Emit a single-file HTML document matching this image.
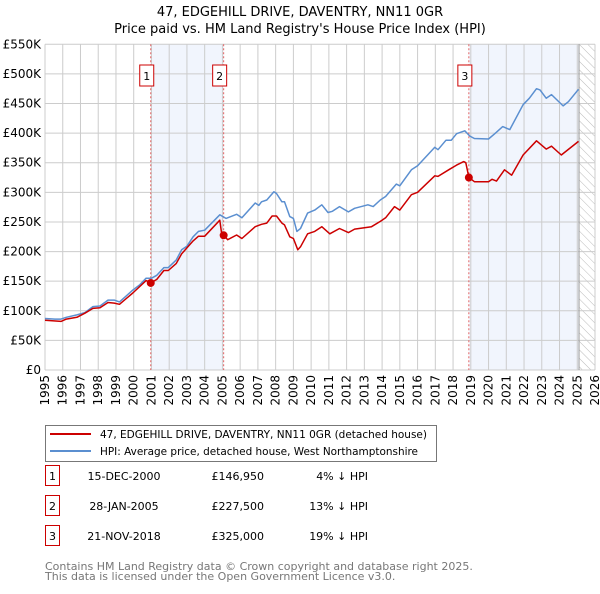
<!DOCTYPE html>
<html><head><meta charset="utf-8">
<style>
body{margin:0;background:#fff;font-family:"DejaVu Sans","Liberation Sans",sans-serif;}
svg text{font-family:"DejaVu Sans","Liberation Sans",sans-serif;}
</style></head>
<body>
<svg id="c" width="600" height="590" xmlns="http://www.w3.org/2000/svg">
<defs>
<pattern id="hatch" width="6" height="6" patternUnits="userSpaceOnUse" patternTransform="rotate(-45)">
<line x1="0" y1="0" x2="0" y2="6" stroke="#bbb" stroke-width="1"/>
</pattern>
</defs>
<text x="300" y="16" text-anchor="middle" font-size="13">47, EDGEHILL DRIVE, DAVENTRY, NN11 0GR</text>
<text x="300" y="33" text-anchor="middle" font-size="13">Price paid vs. HM Land Registry's House Price Index (HPI)</text>
<g id="plot"></g>
<rect x="45.5" y="425.5" width="391" height="36" fill="#fff" stroke="#777"/>
<line x1="50" y1="434" x2="91" y2="434" stroke="#cc0000" stroke-width="2"/>
<text x="100" y="438" font-size="10.5" textLength="327" lengthAdjust="spacingAndGlyphs">47, EDGEHILL DRIVE, DAVENTRY, NN11 0GR (detached house)</text>
<line x1="50" y1="451" x2="91" y2="451" stroke="#5b8fd0" stroke-width="2"/>
<text x="100" y="455" font-size="10.5" textLength="318" lengthAdjust="spacingAndGlyphs">HPI: Average price, detached house, West Northamptonshire</text>
<g id="table" font-size="11"></g>
<text x="45" y="570" font-size="11" fill="#777">Contains HM Land Registry data © Crown copyright and database right 2025.</text>
<text x="45" y="580" font-size="11" fill="#777">This data is licensed under the Open Government Licence v3.0.</text>
</svg>
<script>
const yearTicks=[1995,1996,1997,1998,1999,2000,2001,2002,2003,2004,2005,2006,2007,2008,2009,2010,2011,2012,2013,2014,2015,2016,2017,2018,2019,2020,2021,2022,2023,2024,2025,2026];
const priceTicks=[0,50,100,150,200,250,300,350,400,450,500,550];
const priceTickLabels=["£0","£50K","£100K","£150K","£200K","£250K","£300K","£350K","£400K","£450K","£500K","£550K"];
const hpiYears=[1995,1995.56,1995.9,1996.2,1996.8,1997.25,1997.7,1998.1,1998.55,1998.9,1999.2,1999.95,2000.35,2000.7,2001,2001.3,2001.7,2001.95,2002.4,2002.7,2003,2003.35,2003.65,2004,2004.85,2005.2,2005.8,2006.1,2006.85,2007.05,2007.2,2007.5,2007.9,2008.05,2008.35,2008.5,2008.8,2009,2009.2,2009.4,2009.8,2010.2,2010.6,2010.95,2011.2,2011.6,2012.1,2012.45,2013.2,2013.5,2013.9,2014.2,2014.8,2015,2015.65,2016,2016.97,2017.15,2017.6,2017.9,2018.2,2018.66,2018.95,2019.2,2020,2020.35,2020.8,2021.2,2021.95,2022.3,2022.7,2022.9,2023.25,2023.55,2024.2,2024.5,2025.07];
const hpiValues=[87,86,86,89,93,97,107,108,118,118,115,135,144,155,155,160,173,173,186,203,209,225,234,236,262,256,263,257,282,278,284,287,301,298,284,284,259,256,234,239,265,270,279,266,268,276,267,273,279,276,287,293,314,311,338,345,376,372,388,388,399,404,395,391,390,399,411,406,448,459,475,473,459,465,446,453,474];
const propYears=[1995,1995.9,1996.2,1996.8,1997.25,1997.7,1998.1,1998.55,1998.9,1999.2,1999.95,2000.7,2000.96,2001.3,2001.7,2001.95,2002.4,2002.7,2003.35,2003.65,2004,2004.85,2004.95,2005.07,2005.3,2005.8,2006.1,2006.85,2007.2,2007.5,2007.8,2008.05,2008.35,2008.5,2008.8,2009,2009.25,2009.4,2009.8,2010.2,2010.6,2011.05,2011.6,2012.1,2012.45,2013.4,2013.9,2014.2,2014.7,2015,2015.65,2016,2016.97,2017.15,2017.8,2018.2,2018.6,2018.72,2018.89,2019.2,2020,2020.2,2020.45,2020.9,2021.3,2021.95,2022.7,2023.25,2023.55,2024.1,2025.07];
const propValues=[84,82,86,89,96,104,105,114,113,111,130,151,146.95,153,168,168,180,196,218,226,226,253,232,227.5,220,228,222,242,246,248,260,260,248,245,225,222,203,208,230,234,242,230,239,232,238,242,251,257,276,270,296,300,328,327,339,346,352,350,325,318,318,322,319,338,329,363,387,373,378,363,386];
const saleYears=[2000.96,2005.07,2018.89];
const saleValues=[146.95,227.5,325];
const saleLabels=["1","2","3"];
const saleDates=["15-DEC-2000","28-JAN-2005","21-NOV-2018"];
const salePrices=["£146,950","£227,500","£325,000"];
const saleDiffs=["4% ↓ HPI","13% ↓ HPI","19% ↓ HPI"];
const shadeEnd=2025.1;

const X0=45,X1=595,Y0=370,Y1=44.3;
const xs=y=>X0+(y-1995)/(2026-1995)*(X1-X0);
const ys=v=>Y0-v/550*(Y0-Y1);
const NS="http://www.w3.org/2000/svg";
const plot=document.getElementById('plot');
function mk(tag,attrs,parent){const e=document.createElementNS(NS,tag);for(const k in attrs)e.setAttribute(k,attrs[k]);(parent||plot).appendChild(e);return e;}

let r;
r=mk('rect',{x:xs(saleYears[0]),y:Y1,width:xs(saleYears[1])-xs(saleYears[0]),height:Y0-Y1,fill:'#eef3fc',opacity:0.8});


r=mk('rect',{x:xs(saleYears[2]),y:Y1,width:xs(shadeEnd)-xs(saleYears[2]),height:Y0-Y1,fill:'#eef3fc',opacity:0.8});


r=mk('rect',{x:xs(shadeEnd),y:Y1,width:X1-xs(shadeEnd),height:Y0-Y1,fill:'url(#hatch)'});



yearTicks.forEach(t=>{
  const l=mk('line',{x1:xs(t),x2:xs(t),y1:Y1,y2:Y0,stroke:'#ccc','stroke-width':1});
  
  
  const tx=mk('text',{x:0,y:0,'font-size':12,'text-anchor':'end',transform:`translate(${xs(t)+4},${Y0+5}) rotate(-90)`});
  tx.textContent=t;
  
  
});
priceTicks.forEach((t,i)=>{
  const l=mk('line',{x1:X0,x2:X1,y1:ys(t),y2:ys(t),stroke:'#ccc','stroke-width':1});
  
  
  const tx=mk('text',{x:X0-4,y:ys(t)+4,'font-size':12,'text-anchor':'end'});
  tx.textContent=priceTickLabels[i];
  
  
});
r=mk('line',{x1:xs(shadeEnd),x2:xs(shadeEnd),y1:Y1,y2:Y0,stroke:'#999','stroke-width':1});



saleYears.forEach((s,i)=>{
  const l=mk('line',{x1:xs(s),x2:xs(s),y1:Y1,y2:Y0,stroke:'#e06060','stroke-width':1,'stroke-dasharray':'2,2'});
  
  
});

function path(xa,va,color,name){
  const d=xa.map((x,i)=>(i?'L':'M')+xs(x).toFixed(1)+','+ys(va[i]).toFixed(1)).join('');
  const p=mk('path',{d:d,fill:'none',stroke:color,'stroke-width':1.5,'stroke-linejoin':'round'});
  
  
}
path(hpiYears,hpiValues,'#5b8fd0','hpi-line');
path(propYears,propValues,'#cc0000','property-price-line');

saleYears.forEach((s,i)=>{
  const c=mk('circle',{cx:xs(s),cy:ys(saleValues[i]),r:4,fill:'#cc0000'});
  
  
  const bx=xs(s)-4;
  const b=mk('rect',{x:bx-7,y:65,width:14,height:21,fill:'#fff',stroke:'#cc0000','stroke-width':1});
  
  
  const t=mk('text',{x:bx,y:80,'font-size':11,'text-anchor':'middle'});
  t.textContent=saleLabels[i];
  
  
});

const tbl=document.getElementById('table');
saleLabels.forEach((lab,i)=>{
  const y=475+i*30;
  let e=mk('rect',{x:45.5,y:y-9.5,width:14,height:20,fill:'#fff',stroke:'#cc0000'},tbl);
  
  
  e=mk('text',{x:52.5,y:y+5,'text-anchor':'middle'},tbl);e.textContent=lab;
  
  
  e=mk('text',{x:124,y:y+5,'text-anchor':'middle'},tbl);e.textContent=saleDates[i];
  
  
  e=mk('text',{x:264,y:y+5,'text-anchor':'end'},tbl);e.textContent=salePrices[i];
  
  
  e=mk('text',{x:368,y:y+5,'text-anchor':'end'},tbl);e.textContent=saleDiffs[i];
  
  
});
</script>
</body></html>
